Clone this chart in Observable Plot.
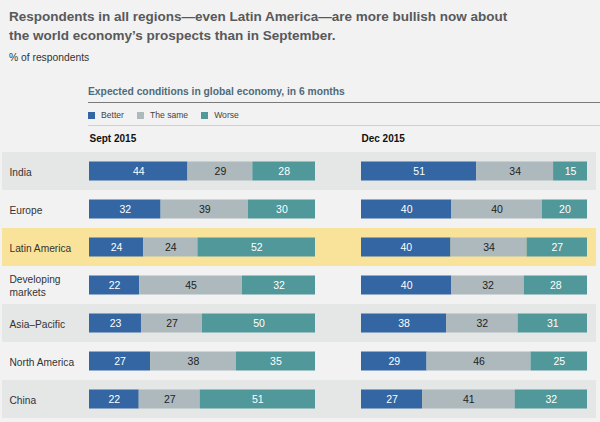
<!DOCTYPE html>
<html><head><meta charset="utf-8">
<script src="https://cdn.jsdelivr.net/npm/d3@7"></script>
<script src="https://cdn.jsdelivr.net/npm/@observablehq/plot@0.6"></script>
<style>
html,body{margin:0;padding:0;background:#f2f2f2;}
#root{position:relative;width:600px;height:422px;overflow:hidden;font-family:"Liberation Sans",Arial,Helvetica,sans-serif;}
.abs{position:absolute;white-space:nowrap;}
#root svg{position:absolute;left:0;top:128px;}
</style></head><body><div id="root"></div>
<script>
const regions = ["India","Europe","Latin America","Developing markets","Asia–Pacific","North America","China"];
const periods = ["Sept 2015","Dec 2015"];
const categories = ["Better","The same","Worse"];
const septBetter = [44,32,24,22,23,27,22];
const septSame   = [29,39,24,45,27,38,27];
const septWorse  = [28,30,52,32,50,35,51];
const decBetter  = [51,40,40,40,38,29,27];
const decSame    = [34,40,34,32,32,46,41];
const decWorse   = [15,20,27,28,31,25,32];
const highlight = "Latin America";

const colors = ["#3366a3","#adb9bd","#50989a"];
const font = '"Liberation Sans",Arial,Helvetica,sans-serif';

const series = {"Sept 2015":[septBetter,septSame,septWorse],"Dec 2015":[decBetter,decSame,decWorse]};
const table = [];
for (const p of periods) regions.forEach((r,i)=>categories.forEach((c,k)=>table.push({period:p,region:r,category:c,value:series[p][k][i]})));

const root = document.getElementById("root");
function add(html, css){const d=document.createElement("div");d.className="abs";d.style.cssText=css;d.innerHTML=html;root.appendChild(d);return d;}

add("Respondents in all regions—even Latin America—are more bullish now about<br>the world economy’s prospects than in September.",
    "left:9px;top:7px;font-size:13.5px;line-height:19px;font-weight:bold;color:#58595b;");
add("% of respondents","left:9px;top:52px;font-size:10.3px;line-height:12px;color:#333;");
add("Expected conditions in global economy, in 6 months","left:88px;top:86px;font-size:10.3px;line-height:12px;font-weight:bold;color:#4e6b7b;");
add("","left:88px;top:102px;width:512px;height:1px;background:#7a7a7a;");
add("","left:88px;top:125px;width:512px;height:1px;background:#cfcfcf;");
const leg = add("","left:88px;top:110px;font-size:8.6px;line-height:10px;color:#444;display:flex;align-items:center;");
categories.forEach((c,k)=>{
  const s=document.createElement("span");
  s.style.cssText=`display:inline-block;width:7px;height:7px;background:${colors[k]};margin-right:6px;${k? "margin-left:13px;":""}`;
  leg.appendChild(s);
  const t=document.createElement("span");t.textContent=c;leg.appendChild(t);
});

const label = d => d === "Developing markets" ? "Developing\nmarkets" : d;
const bandRows = regions.filter((d,i)=>i%2===0 && d!==highlight);

const bg = Plot.plot({
  width:600,height:294,marginTop:21,marginBottom:2,marginLeft:2,marginRight:4,
  x:{axis:null}, y:{axis:null,domain:regions,padding:0},
  style:{background:"transparent",fontFamily:font},
  marks:[
    Plot.cell(bandRows,{y:d=>d,fill:"#e5e6e6"}),
    Plot.cell([highlight],{y:d=>d,fill:"#f9e39a"}),
    Plot.text(regions,{y:d=>d,text:label,frameAnchor:"left",dx:7,fontSize:10.2,fill:"#333",lineHeight:1.25})
  ]
});
root.appendChild(bg);

const fg = Plot.plot({
  width:600,height:294,marginTop:21,marginBottom:2,marginLeft:88,marginRight:13,
  fx:{domain:periods,paddingInner:0.17,paddingOuter:0,axis:null,label:null},
  x:{axis:null}, y:{axis:null,domain:regions,padding:0},
  color:{domain:categories,range:colors},
  style:{background:"transparent",fontFamily:font},
  marks:[
    Plot.barX(table,Plot.stackX({x:"value",y:"region",fx:"period",fill:"category",offset:"normalize",insetTop:9.5,insetBottom:9.5})),
    Plot.text(table,Plot.stackX({x:"value",y:"region",fx:"period",z:"category",offset:"normalize",text:d=>d.category!=="The same"?d.value:"",fill:"white",fontSize:10.5})),
    Plot.text(table,Plot.stackX({x:"value",y:"region",fx:"period",z:"category",offset:"normalize",text:d=>d.category==="The same"?d.value:"",fill:"#222",fontSize:10.5})),
    Plot.text(periods,{fx:d=>d,text:d=>d,frameAnchor:"top-left",lineAnchor:"middle",dy:-11,fontWeight:"bold",fontSize:10,fill:"#111"})
  ]
});
root.appendChild(fg);
</script></body></html>
